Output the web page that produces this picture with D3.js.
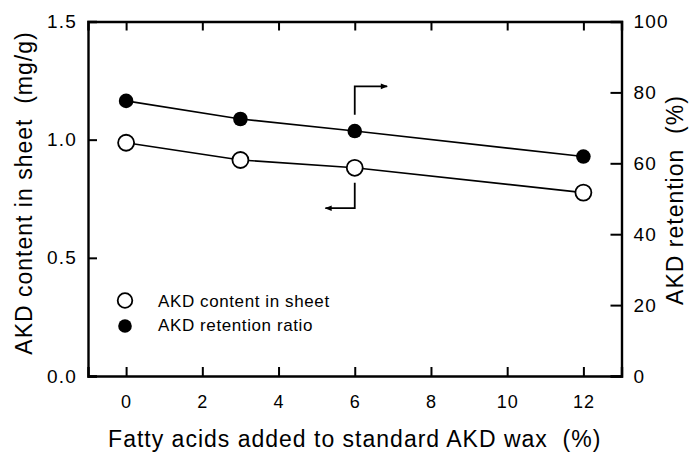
<!DOCTYPE html>
<html lang="en">
  <head>
    <meta charset="utf-8">
    <script src="https://d3js.org/d3.v7.min.js"></script>
    <style>
      body { margin: 0; background: #fff; }
      text { font-family: "Liberation Sans", Arial, sans-serif; fill: #000; }
      .xlab text { font-size: 18px; letter-spacing: 1px; }
      .ylab text { font-size: 19px; letter-spacing: 1.2px; }
    </style>
  </head>
<body>
  <div id="chart"></div>
  <script>
    // plot setup
    var width = 700;
    var height = 452;
    var plotLeft = 88, plotRight = 621.5, plotTop = 21.5, plotBottom = 376;

    // data
    var fattyAcids = [0, 3, 6, 12];
    var akdContent = [0.987, 0.914, 0.881, 0.776];      // mg/g, left axis
    var akdRetention = [77.6, 72.5, 69.1, 61.9];        // %, right axis
    var xTicks = [0, 2, 4, 6, 8, 10, 12];
    var yLeftTicks = [0, 0.5, 1.0, 1.5];
    var yRightTicks = [0, 20, 40, 60, 80, 100];
    var legendLabels = ["AKD content in sheet", "AKD retention ratio"];
    // arrow annotations (data units): [x, y] points, last point gets the head
    var arrowRight = [[6, 73.7], [6, 81.7], [6.85, 81.7]];   // right axis
    var arrowLeft = [[6, 0.818], [6, 0.71], [5.23, 0.71]];   // left axis

    var svg = d3.select("#chart")
                .append("svg")
                .attr("width", width)
                .attr("height", height);

    // scales
    var xScale = d3.scaleLinear().domain([-1, 13]).range([plotLeft, plotRight]);
    var yLeft = d3.scaleLinear().domain([0, 1.5]).range([plotBottom, plotTop]);
    var yRight = d3.scaleLinear().domain([0, 100]).range([plotBottom, plotTop]);

    svg.append("defs").append("marker")
        .attr("id", "head")
        .attr("viewBox", "0 0 10 10")
        .attr("refX", 9).attr("refY", 5)
        .attr("markerWidth", 9).attr("markerHeight", 7)
        .attr("markerUnits", "userSpaceOnUse")
        .attr("orient", "auto")
        .append("path")
        .attr("d", "M0,1 L10,5 L0,9 Z")
        .attr("fill", "#000");

    // axes (ticks inward on all sides)
    var xAxis = d3.axisBottom(xScale).tickValues(xTicks).tickSize(-9).tickPadding(19)
        .tickFormat(d3.format("d"));
    var xTop = d3.axisTop(xScale).tickValues(xTicks).tickSize(-9).tickFormat("");
    var yAxisL = d3.axisLeft(yLeft).tickValues(yLeftTicks).tickSize(-9).tickPadding(11)
        .tickFormat(d3.format(".1f"));
    var yAxisR = d3.axisRight(yRight).tickValues(yRightTicks).tickSize(-11).tickPadding(12)
        .tickFormat(d3.format("d"));

    svg.append("g").attr("class", "axis xlab")
        .attr("transform", "translate(0," + plotBottom + ")")
        .call(xAxis);
    svg.append("g").attr("class", "axis")
        .attr("transform", "translate(0," + plotTop + ")")
        .call(xTop);
    svg.append("g").attr("class", "axis ylab")
        .attr("transform", "translate(" + plotLeft + ",0)")
        .call(yAxisL);
    svg.append("g").attr("class", "axis ylab")
        .attr("transform", "translate(" + plotRight + ",0)")
        .call(yAxisR);

    svg.selectAll(".axis").attr("font-size", null).attr("font-family", null);
    svg.selectAll(".axis .domain").attr("stroke", "#000").attr("stroke-width", 2.4);
    svg.selectAll(".axis .tick line").attr("stroke", "#000").attr("stroke-width", 2);
    svg.selectAll(".axis text").attr("fill", "#000");

    // axis titles
    svg.append("text")
        .attr("x", (plotLeft + plotRight) / 2)
        .attr("y", 447)
        .attr("text-anchor", "middle")
        .style("font-size", "23px")
        .style("letter-spacing", "1px")
        .text("Fatty acids added to standard AKD wax\u00a0\u00a0(%)");

    svg.append("text")
        .attr("transform", "translate(32,193) rotate(-90)")
        .attr("text-anchor", "middle")
        .style("font-size", "23px")
        .style("letter-spacing", "1px")
        .text("AKD content in sheet\u00a0\u00a0(mg/g)");

    svg.append("text")
        .attr("transform", "translate(683,200) rotate(-90)")
        .attr("text-anchor", "middle")
        .style("font-size", "23px")
        .style("letter-spacing", "1px")
        .text("AKD retention\u00a0\u00a0(%)");

    // series
    var contentPts = fattyAcids.map(function(d, i) { return {x: d, y: akdContent[i]}; });
    var retentionPts = fattyAcids.map(function(d, i) { return {x: d, y: akdRetention[i]}; });

    var lineL = d3.line().x(function(d) { return xScale(d.x); }).y(function(d) { return yLeft(d.y); });
    var lineR = d3.line().x(function(d) { return xScale(d.x); }).y(function(d) { return yRight(d.y); });

    svg.append("path").datum(retentionPts)
        .attr("d", lineR).attr("fill", "none").attr("stroke", "#000").attr("stroke-width", 1.6);
    svg.append("path").datum(contentPts)
        .attr("d", lineL).attr("fill", "none").attr("stroke", "#000").attr("stroke-width", 1.6);

    svg.append("g").selectAll("circle")
        .data(retentionPts)
        .enter()
        .append("circle")
        .attr("cx", function(d) { return xScale(d.x); })
        .attr("cy", function(d) { return yRight(d.y); })
        .attr("r", 7.3)
        .attr("fill", "#000");

    svg.append("g").selectAll("circle")
        .data(contentPts)
        .enter()
        .append("circle")
        .attr("cx", function(d) { return xScale(d.x); })
        .attr("cy", function(d) { return yLeft(d.y); })
        .attr("r", 8)
        .attr("fill", "#fff")
        .attr("stroke", "#000")
        .attr("stroke-width", 1.8);

    // arrows pointing to each series' axis
    svg.append("path").datum(arrowRight)
        .attr("d", d3.line().x(function(d) { return xScale(d[0]); }).y(function(d) { return yRight(d[1]); }))
        .attr("fill", "none").attr("stroke", "#000").attr("stroke-width", 1.8)
        .attr("marker-end", "url(#head)");
    svg.append("path").datum(arrowLeft)
        .attr("d", d3.line().x(function(d) { return xScale(d[0]); }).y(function(d) { return yLeft(d[1]); }))
        .attr("fill", "none").attr("stroke", "#000").attr("stroke-width", 1.8)
        .attr("marker-end", "url(#head)");

    // legend
    var legend = svg.append("g").attr("transform", "translate(125,300.5)");
    legend.append("circle").attr("cx", 0).attr("cy", 0).attr("r", 7.3)
        .attr("fill", "#fff").attr("stroke", "#000").attr("stroke-width", 1.8);
    legend.append("circle").attr("cx", 0).attr("cy", 25.5).attr("r", 6.8)
        .attr("fill", "#000");
    legend.selectAll("text")
        .data(legendLabels)
        .enter()
        .append("text")
        .attr("x", 33)
        .attr("y", function(d, i) { return 6 + i * 24; })
        .style("font-size", "17px")
        .style("letter-spacing", "0.6px")
        .text(function(d) { return d; });
  </script>
</body>
</html>
